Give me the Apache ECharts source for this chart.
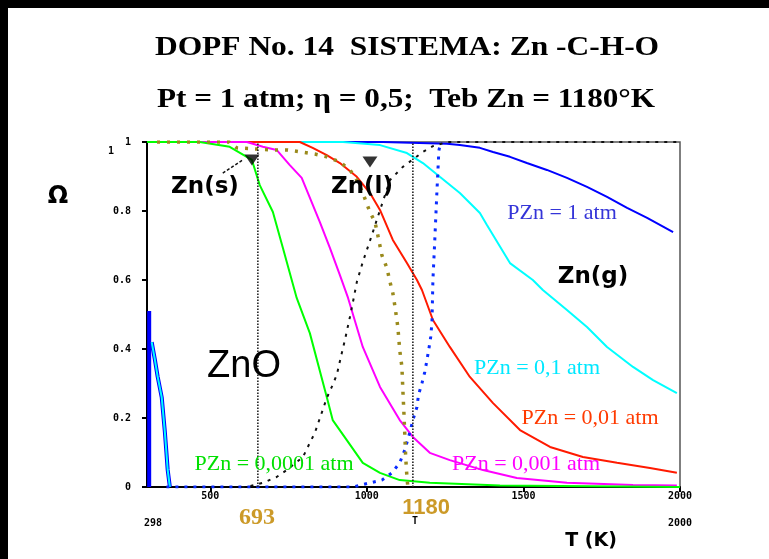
<!DOCTYPE html>
<html><head><meta charset="utf-8">
<script src="https://cdn.jsdelivr.net/npm/echarts@6/dist/echarts.min.js"></script>
<style>html,body{margin:0;padding:0;background:#fff}#c{width:769px;height:559px}</style>
</head><body><div id="c"></div>
<script>
// ---- data (T in K, Omega) ----
const xTicks = [500, 1000, 1500, 2000];
const yTicks = [0, 0.2, 0.4, 0.6, 0.8, 1];

const T_blue = [298, 1051, 1256, 1297, 1361, 1403, 1457, 1511, 1575, 1639, 1703, 1767, 1831, 1895, 1978];
const W_blue = [1, 1, 0.995, 0.991, 0.983, 0.971, 0.957, 0.939, 0.919, 0.896, 0.870, 0.841, 0.809, 0.780, 0.739];

const T_cyan = [298, 924, 1042, 1128, 1179, 1233, 1297, 1361, 1383, 1457, 1530, 1562, 1639, 1703, 1767, 1850, 1914, 1990];
const W_cyan = [1, 1, 0.991, 0.968, 0.939, 0.899, 0.852, 0.794, 0.760, 0.649, 0.600, 0.571, 0.513, 0.464, 0.406, 0.348, 0.310, 0.272];

const T_red = [298, 786, 827, 872, 914, 968, 1010, 1042, 1083, 1128, 1160, 1176, 1211, 1265, 1329, 1403, 1489, 1585, 1690, 1799, 1904, 1990];
const W_red = [1, 1, 0.983, 0.962, 0.939, 0.899, 0.852, 0.803, 0.716, 0.649, 0.600, 0.571, 0.484, 0.406, 0.319, 0.243, 0.165, 0.116, 0.087, 0.070, 0.055, 0.041];

const T_magenta = [298, 617, 668, 712, 754, 792, 812, 850, 882, 914, 940, 987, 1042, 1105, 1147, 1201, 1265, 1371, 1479, 1639, 1850, 1990];
const W_magenta = [1, 1, 0.986, 0.977, 0.933, 0.896, 0.852, 0.768, 0.693, 0.614, 0.548, 0.406, 0.290, 0.194, 0.145, 0.099, 0.078, 0.049, 0.026, 0.012, 0.006, 0.004];

const T_green = [298, 466, 562, 633, 658, 700, 732, 776, 818, 872, 891, 936, 987, 1042, 1105, 1201, 1425, 2000];
const W_green = [1, 1, 0.986, 0.948, 0.875, 0.797, 0.693, 0.548, 0.446, 0.261, 0.194, 0.136, 0.070, 0.041, 0.020, 0.012, 0.004, 0.0];

const T_liq = [600, 617, 668, 712, 744, 796, 818, 834, 859, 872, 888, 904, 920, 930, 946, 955, 968, 987, 1016, 1035, 1074, 1115, 1154, 1179, 1211, 1256, 2000];
const W_liq = [0, 0, 0.012, 0.029, 0.049, 0.087, 0.128, 0.157, 0.223, 0.258, 0.290, 0.325, 0.388, 0.426, 0.493, 0.533, 0.594, 0.652, 0.730, 0.783, 0.890, 0.928, 0.954, 0.971, 0.988, 1.0, 1.0];

const T_gold = [330, 560, 585, 700, 748, 792, 834, 872, 914, 946, 972, 987, 1010, 1026, 1035, 1048, 1064, 1074, 1083, 1090, 1099, 1105, 1112, 1115, 1118, 1121, 1124, 1128, 1131];
const W_gold = [1, 1, 0.983, 0.977, 0.977, 0.971, 0.965, 0.957, 0.942, 0.919, 0.884, 0.852, 0.797, 0.768, 0.730, 0.672, 0.635, 0.594, 0.562, 0.522, 0.464, 0.397, 0.348, 0.281, 0.223, 0.157, 0.087, 0.029, 0];

const T_gas = [360, 955, 1010, 1048, 1080, 1105, 1121, 1137, 1147, 1160, 1165, 1176, 1185, 1192, 1198, 1204, 1208, 1211, 1217, 1224, 1230, 1236];
const W_gas = [0, 0, 0.012, 0.020, 0.041, 0.070, 0.107, 0.157, 0.194, 0.232, 0.267, 0.301, 0.333, 0.368, 0.400, 0.435, 0.478, 0.600, 0.716, 0.861, 0.975, 1.0];

const T_leftBlue = [305, 305];
const W_leftBlue = [0.51, 0];
const T_leftCyan = [313, 323, 332, 345, 350, 355, 360, 364, 371];
const W_leftCyan = [0.42, 0.37, 0.32, 0.26, 0.21, 0.16, 0.10, 0.05, 0];

const vLines = [652, 1147];
const pointerT = [633, 1010];
const pointerW = [0.948, 0.942];
const arrowT = [540, 604];
const arrowW = [0.910, 0.948];

function pts(T, W) { return T.map((t, i) => [t, W[i]]); }

function lineSeries(T, W, color, width, type, z) {
  return { type: 'line', data: pts(T, W), symbol: 'none', smooth: false, z: z || 2,
    lineStyle: { color: color, width: width, type: type || 'solid' }, silent: true };
}

const series = [];
series.push(lineSeries(T_blue, W_blue, '#0000ff', 2, 'solid', 2));
series.push(lineSeries(T_cyan, W_cyan, '#00ffff', 2, 'solid', 2));
series.push(lineSeries(T_red, W_red, '#ff1a00', 2, 'solid', 2));
series.push(lineSeries(T_magenta, W_magenta, '#ff00ff', 2, 'solid', 2));
series.push(lineSeries(T_green, W_green, '#00ff00', 2, 'solid', 2));
series.push(lineSeries(T_leftBlue, W_leftBlue, '#0000ff', 4, 'solid', 3));
series.push(lineSeries(T_leftCyan, W_leftCyan, '#0000ff', 4, 'solid', 3));
series.push(lineSeries(T_leftCyan, W_leftCyan, '#00ffff', 2, 'solid', 3));
series.push(lineSeries(T_gas, W_gas, '#0a2cff', 3, [3, 6], 4));
series.push(lineSeries(T_gold, W_gold, '#9a8a1c', 3.5, [3, 7], 4));
series.push(lineSeries(T_liq, W_liq, '#111', 2, [3, 6], 5));
vLines.forEach(v => series.push(lineSeries([v, v], [0, 1], '#222', 1.6, [1.5, 1.5], 5)));
series.push(lineSeries(arrowT, arrowW, '#111', 1.5, [3, 2], 5));
series.push({ type: 'scatter', data: pts(pointerT, pointerW), symbol: 'triangle', symbolRotate: 180,
  symbolSize: [15, 11], itemStyle: { color: '#000' }, z: 6, silent: true });

function txt(text, x, y, font, fill, sx) {
  return { type: 'text', x: x, y: y, z: 10, scaleX: sx || 1, style: { text: text, font: font, fill: fill || '#000',
    align: 'center', verticalAlign: 'middle' } };
}
const serif = '"Liberation Serif", serif';
const sansB = 'bold 23px "DejaVu Sans", sans-serif';
const tick = 'bold 10px "DejaVu Sans Mono", monospace';

const graphics = [
  { type: 'rect', shape: { x: 0, y: 0, width: 769, height: 8 }, style: { fill: '#000' }, z: 20 },
  { type: 'rect', shape: { x: 0, y: 0, width: 8, height: 559 }, style: { fill: '#000' }, z: 20 },
  txt('DOPF No. 14  SISTEMA: Zn -C-H-O', 407, 48, 'bold 27px ' + serif, '#000', 1.165),
  txt('Pt = 1 atm; \u03b7 = 0,5;  Teb Zn = 1180\u00b0K', 406, 100, 'bold 27px ' + serif, '#000', 1.155),
  txt('\u03a9', 58, 197, 'bold 24px "DejaVu Sans", sans-serif'),
  txt('1', 111, 151, tick),
  txt('Zn(s)', 205, 187, sansB),
  txt('Zn(l)', 362, 187, sansB),
  txt('Zn(g)', 593, 277, sansB),
  txt('ZnO', 244, 367, '38px "Liberation Sans", sans-serif'),
  txt('PZn = 1 atm', 562, 213, '22px ' + serif, '#3434d8'),
  txt('PZn = 0,1 atm', 537, 368, '22px ' + serif, '#00e8ff'),
  txt('PZn = 0,01 atm', 590, 418, '22px ' + serif, '#ff3a00'),
  txt('PZn = 0,001 atm', 526, 464, '22px ' + serif, '#ff00ff'),
  txt('PZn = 0,0001 atm', 274, 464, '22px ' + serif, '#00e000'),
  txt('298', 153, 523, tick),
  txt('2000', 680, 523, tick),
  txt('T', 415, 521, tick),
  txt('693', 257, 518, 'bold 24px ' + serif, '#cc9a28'),
  txt('1180', 426, 508, 'bold 22px "Liberation Sans", sans-serif', '#cc9a28'),
  txt('T (K)', 591, 541, 'bold 19px "DejaVu Sans", sans-serif')
];

const chart = echarts.init(document.getElementById('c'), null, { renderer: 'canvas' });
chart.setOption({
  animation: false,
  backgroundColor: '#fff',
  grid: { left: 147, top: 142, right: 89, bottom: 72, show: true, borderColor: '#555', borderWidth: 1.5 },
  xAxis: { type: 'value', min: 298, max: 2000,
    axisLine: { show: true, onZero: false, lineStyle: { color: '#000', width: 2 } },
    axisTick: { show: true, customValues: xTicks, length: 5, inside: false, lineStyle: { color: '#000', width: 2 } },
    axisLabel: { customValues: xTicks, color: '#000', fontWeight: 'bold', fontSize: 10,
      fontFamily: '"DejaVu Sans Mono", monospace', margin: 4, formatter: v => String(v) },
    splitLine: { show: false } },
  yAxis: { type: 'value', min: 0, max: 1, interval: 0.2,
    axisLine: { show: true, onZero: false, lineStyle: { color: '#000', width: 2 } },
    axisTick: { show: true, length: 5, lineStyle: { color: '#000', width: 2 } },
    axisLabel: { color: '#000', fontWeight: 'bold', fontSize: 10, fontFamily: '"DejaVu Sans Mono", monospace', margin: 16,
      formatter: v => (v === 0 ? '0' : v === 1 ? '1' : v.toFixed(1)) },
    splitLine: { show: false } },
  series: series,
  graphic: graphics
});
</script></body></html>
